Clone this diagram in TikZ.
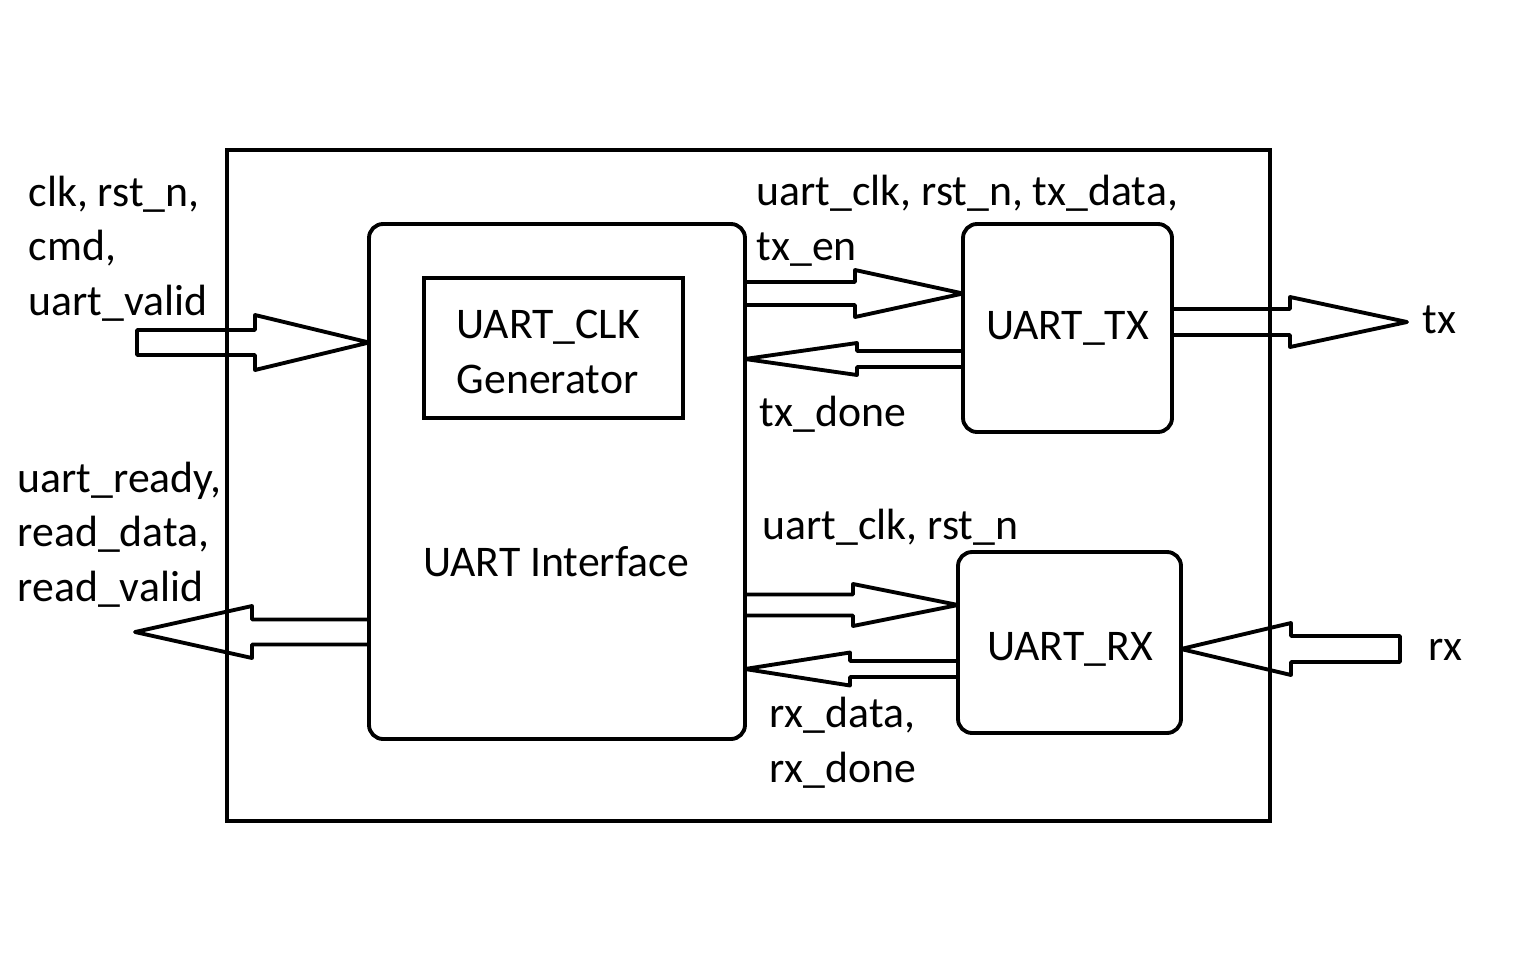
\documentclass[tikz,border=0pt]{standalone}
\usepackage{fontspec}
\setmainfont{Carlito}
\usetikzlibrary{calc}

\tikzset{
  block/.style={draw,line width=1.1pt,rounded corners=4pt,outer sep=0pt,inner sep=0pt},
  fat/.style={draw,line width=1.1pt,line join=round},
  lbl/.style={align=left,inner sep=0pt,anchor=base west}
}
\newcommand{\fatarrow}[5]{%
  \draw[fat] let \p1=(#1), \p2=(#2), \p3=($(#2)!#3!(#1)$) in
    (\x1,\y1+#4) -- (\x3,\y1+#4) -- (\x3,\y1+#5) -- (\p2)
    -- (\x3,\y1-#5) -- (\x3,\y1-#4) -- (\x1,\y1-#4) -- cycle;}

\begin{document}
\begin{tikzpicture}[font=\fontsize{12.45}{15.37}\selectfont]
      \useasboundingbox (0,0) rectangle (15.36,9.6);

      \node[block,rounded corners=0pt,minimum width=10.43cm,minimum height=6.71cm] (top) at (7.485,4.745) {};
      \node[block,minimum width=3.76cm,minimum height=5.15cm] (iface) at (5.57,4.785) {};
      \node (ifacelbl) at (5.56,3.98) {UART Interface};
      \node[block,rounded corners=0pt,minimum width=2.59cm,minimum height=1.40cm] (clkgen) at (5.535,6.12) {};
      \node[lbl] (clkgenlbl) at (4.56,5.67) {UART\_CLK\\Generator};
      \node[block,minimum width=2.09cm,minimum height=2.08cm] (tx) at (10.675,6.32) {UART\_TX};
      \node[block,minimum width=2.23cm,minimum height=1.81cm] (rx) at (10.695,3.175) {};
      \node (rxlbl) at (10.70,3.105) {UART\_RX};

      \node[lbl] (inlbl) at (0.28,6.45) {clk, rst\_n,\\cmd,\\uart\_valid};
      \node[lbl] (outlbl) at (0.17,3.59) {uart\_ready,\\read\_data,\\read\_valid};
      \node[lbl] (txinlbl) at (7.56,7.00) {uart\_clk, rst\_n, tx\_data,\\tx\_en};
      \node[lbl] (txdonelbl) at (7.59,5.34) {tx\_done};
      \node[lbl] (rxinlbl) at (7.62,4.21) {uart\_clk, rst\_n};
      \node[lbl] (rxoutlbl) at (7.69,1.78) {rx\_data,\\rx\_done};
      \node[lbl] (txpin) at (14.22,6.27) {tx};
      \node[lbl] (rxpin) at (14.28,3.00) {rx};

      \coordinate (in1) at (1.37,6.175);
      \coordinate (out1) at (1.35,3.28);
      \coordinate (txo) at (14.07,6.38);
      \coordinate (rxi) at (14.00,3.11);
      \coordinate (r1) at (0,6.665);
      \coordinate (r2) at (0,6.01);
      \coordinate (r3) at (0,3.55);
      \coordinate (r4) at (0,2.91);

      \fatarrow{in1}{iface.west |- in1}{1.14cm}{0.125cm}{0.275cm}
      \fatarrow{iface.west |- out1}{out1}{1.17cm}{0.125cm}{0.26cm}
      \fatarrow{iface.east |- r1}{tx.west |- r1}{1.08cm}{0.115cm}{0.235cm}
      \fatarrow{tx.west |- r2}{iface.east |- r2}{1.12cm}{0.08cm}{0.16cm}
      \fatarrow{iface.east |- r3}{rx.west |- r3}{1.05cm}{0.105cm}{0.21cm}
      \fatarrow{rx.west |- r4}{iface.east |- r4}{1.05cm}{0.08cm}{0.165cm}
      \fatarrow{tx.east |- txo}{txo}{1.17cm}{0.13cm}{0.25cm}
      \fatarrow{rxi}{rx.east |- rxi}{1.10cm}{0.13cm}{0.26cm}
\end{tikzpicture}
\end{document}
